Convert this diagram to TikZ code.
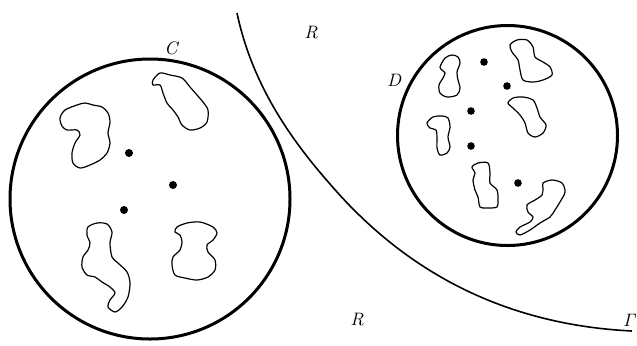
\documentclass[tikz,border=0pt]{standalone}
\begin{document}
\begin{tikzpicture}[x=0.5pt,y=-0.5pt,
  region/.style={line width=1.5pt},
  boundary/.style={line width=0.8pt},
  blob/.style={line width=0.6pt},
  pt/.style={fill=black},
  lab/.style={font=\fontsize{9}{10}\selectfont\itshape,inner sep=0pt}]
\useasboundingbox (0,0) rectangle (637,345);
% circles
\draw[region] (150,199) circle (140);
\draw[region] (507.5,135.5) circle (110);
% boundary curve Gamma
\coordinate (g0) at (237,13);
\coordinate (g1) at (330,184);
\coordinate (g2) at (632,331);
\draw[boundary] (g0) .. controls (251,79) and (285,133) .. (g1)
  .. controls (409,276) and (510,325) .. (g2);
% labels
\node[lab] (c) at (171,48) {C};
\node[lab] (d) at (394,80) {D};
\node[lab] (r1) at (311,33) {R};
\node[lab] (r2) at (357,320) {R};
\node[lab] (g) at (630,320) {$\mathit{\Gamma}$};
% blobs in C
\draw[blob] plot[smooth cycle] coordinates {(60,118) (65,110) (77,105) (85,103) (93,105) (102,107) (108,113) (110,122) (108,133) (110,143) (107,153) (100,160) (90,165) (80,168) (73,163) (72,153) (75,143) (80,135) (77,130) (67,130) (62,126)};
\draw[blob] plot[smooth cycle] coordinates {(153,80) (160,73) (170,75) (182,78) (190,87) (197,95) (203,102) (208,110) (207,122) (200,128) (190,130) (182,125) (178,117) (173,110) (167,103) (163,93) (160,85) (153,85)};
\draw[blob] plot[smooth cycle] coordinates {(88,227) (97,223) (107,224) (112,232) (110,243) (112,257) (118,263) (127,272) (130,283) (128,297) (122,307) (115,312) (108,307) (110,300) (115,293) (110,287) (102,282) (95,277) (87,275) (82,267) (83,257) (88,250) (90,243) (87,235)};
\draw[blob] plot[smooth cycle] coordinates {(177,227) (187,223) (200,222) (213,227) (217,233) (213,240) (207,245) (208,252) (215,260) (215,270) (208,277) (197,280) (185,278) (175,275) (172,265) (173,257) (180,250) (182,242) (180,235) (175,232)};
% points in C
\fill[pt] (129,153) circle (4);
\fill[pt] (173,185) circle (4);
\fill[pt] (124,210) circle (4);
% blobs in D
\draw[blob] plot[smooth cycle] coordinates {(440,67) (445,58) (452,55) (458,57) (460,63) (457,72) (458,80) (460,88) (457,95) (447,97) (440,93) (439,85) (443,78) (445,73) (442,70)};
\draw[blob] plot[smooth cycle] coordinates {(510,45) (517,40) (527,40) (533,47) (535,57) (543,62) (550,67) (552,75) (543,80) (533,82) (523,80) (520,70) (518,60) (512,52)};
\draw[blob] plot[smooth cycle] coordinates {(508,103) (513,98) (523,97) (533,100) (537,108) (540,117) (546,125) (543,133) (535,137) (528,133) (525,123) (520,115) (513,108)};
\draw[blob] plot[smooth cycle] coordinates {(427,123) (433,117) (442,116) (448,118) (450,127) (448,137) (450,147) (447,153) (440,155) (437,148) (437,138) (436,130) (430,128)};
\draw[blob] plot[smooth cycle] coordinates {(472,167) (478,163) (488,163) (490,173) (490,183) (497,190) (498,200) (497,207) (487,208) (480,207) (478,197) (475,190) (473,180) (475,173)};
\draw[blob] plot[smooth cycle] coordinates {(543,183) (552,180) (562,183) (565,192) (560,202) (555,210) (550,217) (540,223) (530,230) (520,235) (516,232) (520,227) (530,222) (533,217) (528,212) (527,205) (535,200) (542,195) (543,188)};
% points in D
\fill[pt] (484,62) circle (3.8);
\fill[pt] (507,86) circle (3.8);
\fill[pt] (471,111) circle (3.8);
\fill[pt] (471,146) circle (3.8);
\fill[pt] (518,183) circle (3.8);
\end{tikzpicture}
\end{document}
